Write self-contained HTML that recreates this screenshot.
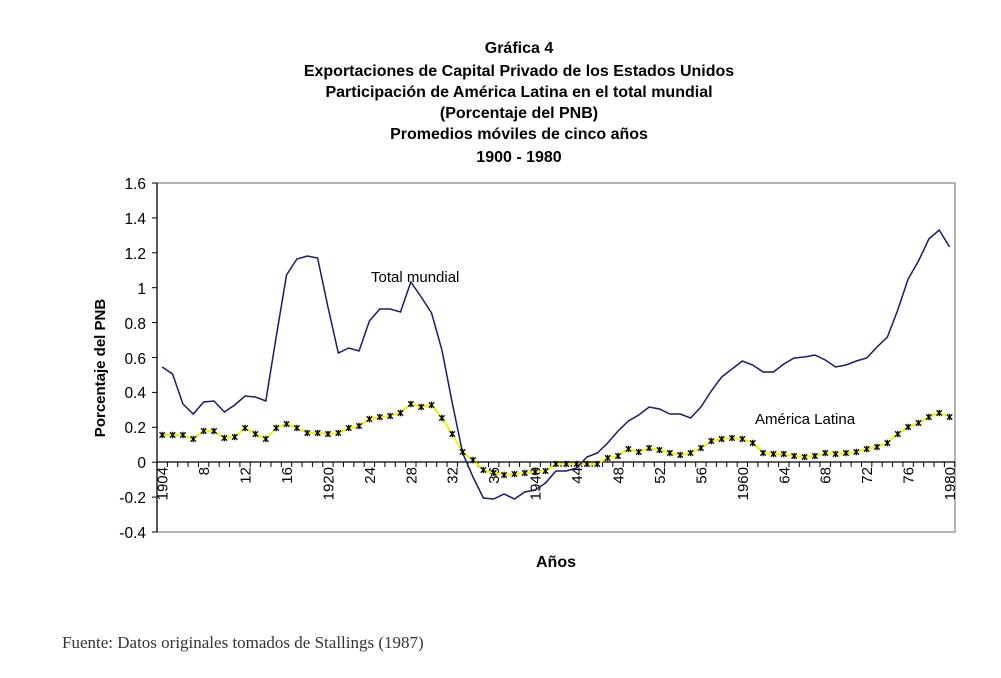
<!DOCTYPE html>
<html><head><meta charset="utf-8"><style>
body{margin:0;background:#fff;}
svg{display:block;font-family:"Liberation Sans",Arial,sans-serif;}
</style></head><body>
<svg id="s" width="1001" height="678" viewBox="0 0 1001 678" xmlns="http://www.w3.org/2000/svg">
<rect width="1001" height="678" fill="#fff"/>
<g font-weight="bold" font-size="16" text-anchor="middle" fill="#000">
<text x="519" y="53">Gráfica 4</text>
<text x="519" y="76">Exportaciones de Capital Privado de los Estados Unidos</text>
<text x="519" y="97">Participación de América Latina en el total mundial</text>
<text x="519" y="118">(Porcentaje del PNB)</text>
<text x="519" y="139">Promedios móviles de cinco años</text>
<text x="519" y="162">1900 - 1980</text>
</g>
<polyline points="157,183 955,183 955,532 157,532" fill="none" stroke="#888" stroke-width="1.3"/>
<line x1="157" y1="183" x2="157" y2="532" stroke="#000" stroke-width="1.3"/>
<g id="yt" stroke="#000" stroke-width="1"></g>
<g font-size="15.5" text-anchor="end" fill="#000">
<text x="146" y="189">1.6</text>
<text x="146" y="224">1.4</text>
<text x="146" y="259">1.2</text>
<text x="146" y="294">1</text>
<text x="146" y="329">0.8</text>
<text x="146" y="364">0.6</text>
<text x="146" y="398">0.4</text>
<text x="146" y="433">0.2</text>
<text x="146" y="468">0</text>
<text x="146" y="503">-0.2</text>
<text x="146" y="538">-0.4</text>
</g>
<text transform="translate(105,368) rotate(-90)" font-size="15" font-weight="bold" text-anchor="middle">Porcentaje del PNB</text>
<line x1="157" y1="462" x2="955" y2="462" stroke="#000" stroke-width="1.3"/>
<g id="xt" stroke="#000" stroke-width="1"></g>
<g id="xl" font-size="15" text-anchor="end" fill="#000">
<text transform="translate(167.5,467) rotate(-90)">1904</text>
<text transform="translate(209,467) rotate(-90)">8</text>
<text transform="translate(250.5,467) rotate(-90)">12</text>
<text transform="translate(292,467) rotate(-90)">16</text>
<text transform="translate(333.4,467) rotate(-90)">1920</text>
<text transform="translate(374.9,467) rotate(-90)">24</text>
<text transform="translate(416.3,467) rotate(-90)">28</text>
<text transform="translate(457.7,467) rotate(-90)">32</text>
<text transform="translate(499.2,467) rotate(-90)">36</text>
<text transform="translate(540.6,467) rotate(-90)">1940</text>
<text transform="translate(582.1,467) rotate(-90)">44</text>
<text transform="translate(623.5,467) rotate(-90)">48</text>
<text transform="translate(665,467) rotate(-90)">52</text>
<text transform="translate(706.4,467) rotate(-90)">56</text>
<text transform="translate(747.8,467) rotate(-90)">1960</text>
<text transform="translate(789.3,467) rotate(-90)">64</text>
<text transform="translate(830.7,467) rotate(-90)">68</text>
<text transform="translate(872.2,467) rotate(-90)">72</text>
<text transform="translate(913.6,467) rotate(-90)">76</text>
<text transform="translate(955,467) rotate(-90)">1980</text>
</g>
<g id="series"></g>
<text x="371" y="282" font-size="15">Total mundial</text>
<text x="755" y="424" font-size="15">América Latina</text>
<text x="556" y="567" font-size="16" font-weight="bold" text-anchor="middle">Años</text>
<text x="62" y="648" font-family="'Liberation Serif',serif" font-size="17" fill="#333">Fuente: Datos originales tomados de Stallings (1987)</text>
</svg>
<script>
var T=[367,374,404,414,402,401,412,405,396,397,401,337,275,259,256,258,307,353,348,351,321,309,309,312,282,297,313,350,403,453,477,498,499,494,499,492,490,483,471,471,468,457,453,443,431,421,415,407,409,414,414,418,407,391,377,369,361,365,372,372,364,358,357,355,360,367,365,361,358,347,337,310,279,261,239,230,247];
var L=[435,435,435,439,431,431,438,437,428,434,439,428,424,428,433,433,434,433,428,426,419,417,416,413,404,407,405,418,434,452,460,470,473,475,474,473,472,471,464,464,464,464,464,458,456,449,452,448,450,453,455,453,448,441,439,438,439,443,453,454,454,456,457,456,453,454,453,452,449,447,443,434,427,423,417,413,417];
var NS="http://www.w3.org/2000/svg";
function el(p,n,a){var e=document.createElementNS(NS,n);for(var k in a)e.setAttribute(k,a[k]);p.appendChild(e);return e;}
function X(i){return 162.2+10.36*i;}
var yt=document.getElementById('yt');
for(var k=0;k<=10;k++){var y=183+k*34.9;el(yt,'line',{x1:152,y1:y,x2:157,y2:y});}
var xt=document.getElementById('xt');
for(var k=0;k<=77;k++){var x=157+k*10.36;el(xt,'line',{x1:x,y1:462,x2:x,y2:467});}
var g=document.getElementById('series');
el(g,'polyline',{points:L.map(function(v,i){return X(i)+','+v}).join(' '),fill:'none',stroke:'#f2f200','stroke-width':2});
el(g,'polyline',{points:T.map(function(v,i){return X(i)+','+v}).join(' '),fill:'none',stroke:'#1a1a6e','stroke-width':1.5});
L.forEach(function(v,i){var x=X(i);
el(g,'path',{d:'M'+(x-2.7)+' '+(v-2.7)+'L'+(x+2.7)+' '+(v+2.7)+'M'+(x+2.7)+' '+(v-2.7)+'L'+(x-2.7)+' '+(v+2.7)+'M'+x+' '+(v-3.2)+'L'+x+' '+(v+3.2),stroke:'#000','stroke-width':1.3,fill:'none'});});
</script>
</body></html>
